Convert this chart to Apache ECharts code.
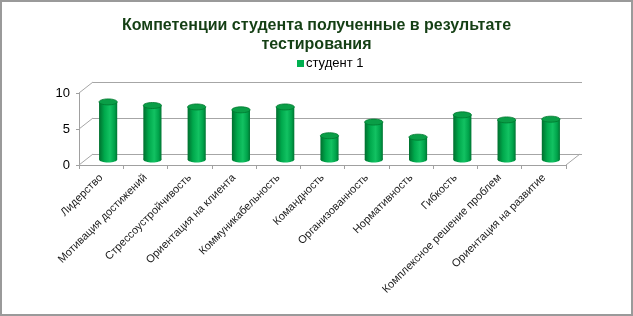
<!DOCTYPE html>
<html>
<head>
<meta charset="utf-8">
<script src="https://cdn.jsdelivr.net/npm/echarts@6/dist/echarts.min.js"></script>
<style>
  body { margin: 0; background: #fff; }
  #main { width: 633px; height: 316px; }
  #frame { position: absolute; left: 0; top: 0; width: 633px; height: 316px; box-sizing: border-box; border: 2px solid #9a9a9a; pointer-events: none; }
</style>
</head>
<body>
<div id="main"></div>
<div id="frame"></div>
<script>
var categories = [
  'Лидерство',
  'Мотивация достижений',
  'Стрессоустройчивость',
  'Ориентация на клиента',
  'Коммуникабельность',
  'Командность',
  'Организованность',
  'Нормативность',
  'Гибкость',
  'Комплексное решение проблем',
  'Ориентация на развитие'
];
var student1 = [8.0, 7.5, 7.3, 6.9, 7.3, 3.3, 5.2, 3.1, 6.2, 5.5, 5.6];
var yTicks = [0, 5, 10];

var chartDom = document.getElementById('main');
var myChart = echarts.init(chartDom);
var option;

// depth offset of the 3d back wall and of the bars
var DX = 14, DY = -11;
var BX = 7, BY = -5.5;

var bodyGrad = new echarts.graphic.LinearGradient(0, 0, 1, 0, [
  { offset: 0, color: '#006f2e' },
  { offset: 0.3, color: '#00a94c' },
  { offset: 0.6, color: '#12c262' },
  { offset: 0.85, color: '#00a24a' },
  { offset: 1, color: '#007532' }
]);

option = {
  animation: false,
  textStyle: { fontFamily: 'Liberation Sans, Arial, sans-serif' },
  title: {
    text: 'Компетенции студента полученные в результате\nтестирования',
    left: 'center',
    top: 11,
    textStyle: {
      fontSize: 16,
      fontWeight: 'bold',
      color: '#143f14',
      lineHeight: 19,
      align: 'center'
    }
  },
  legend: {
    data: ['студент 1'],
    left: 292,
    top: 52,
    icon: 'rect',
    itemWidth: 7,
    itemHeight: 7,
    itemGap: 4,
    textStyle: { fontSize: 13, color: '#000', padding: [0, 0, 0, -3] }
  },
  grid: [
    { left: 79, right: 67, top: 93, bottom: 151 },
    { left: 93, right: 51, top: 82, bottom: 162 }
  ],
  xAxis: [
    {
      type: 'category',
      gridIndex: 0,
      data: categories,
      axisLine: { show: true, lineStyle: { color: '#a0a0a0' } },
      axisTick: { show: true, length: 4, lineStyle: { color: '#a0a0a0' } },
      axisLabel: {
        interval: 0,
        rotate: 45,
        fontSize: 11,
        color: '#1a1a1a',
        margin: 11
      }
    },
    {
      type: 'category',
      gridIndex: 1,
      data: categories,
      show: false
    }
  ],
  yAxis: [
    {
      type: 'value',
      gridIndex: 0,
      min: 0,
      max: 10,
      interval: 5,
      splitLine: { show: false },
      axisLine: { show: true, lineStyle: { color: '#a0a0a0' } },
      axisTick: { show: true, length: 3, lineStyle: { color: '#a0a0a0' } },
      axisLabel: { fontSize: 13, color: '#000', margin: 9 }
    },
    {
      type: 'value',
      gridIndex: 1,
      min: 0,
      max: 10,
      interval: 5,
      axisLine: { show: false },
      axisTick: { show: false },
      axisLabel: { show: false },
      splitLine: { show: true, lineStyle: { color: '#a6a6a6', width: 1 } }
    }
  ],
  series: [
    {
      name: 'walls',
      type: 'custom',
      xAxisIndex: 0,
      yAxisIndex: 0,
      silent: true,
      z: 1,
      data: yTicks.map(function (v) { return [0, v]; }),
      renderItem: function (params, api) {
        var cs = params.coordSys;
        var y = api.coord([0, api.value(1)])[1];
        var children = [{
          type: 'line',
          shape: { x1: cs.x, y1: y, x2: cs.x + DX, y2: y + DY },
          style: { stroke: '#a6a6a6', lineWidth: 1 }
        }];
        if (api.value(1) === 0) {
          children.push({
            type: 'line',
            shape: { x1: cs.x + cs.width, y1: y, x2: cs.x + cs.width + DX, y2: y + DY },
            style: { stroke: '#a6a6a6', lineWidth: 1 }
          });
        }
        return { type: 'group', children: children };
      }
    },
    {
      name: 'студент 1',
      type: 'custom',
      xAxisIndex: 0,
      yAxisIndex: 0,
      z: 3,
      itemStyle: { color: '#00b050' },
      encode: { x: 0, y: 1 },
      data: student1.map(function (v, i) { return [i, v]; }),
      renderItem: function (params, api) {
        var top = api.coord([api.value(0), api.value(1)]);
        var base = api.coord([api.value(0), 0]);
        var w = api.size([1, 0])[0] * 0.41;
        var rx = w / 2, ry = 3;
        var cx = top[0] + BX;
        var ty = top[1] + BY;
        var by = base[1] + BY;
        return {
          type: 'group',
          children: [
            { type: 'ellipse', shape: { cx: cx, cy: by, rx: rx, ry: ry }, style: { fill: bodyGrad } },
            { type: 'rect', shape: { x: cx - rx, y: ty, width: w, height: by - ty }, style: { fill: bodyGrad } },
            { type: 'ellipse', shape: { cx: cx, cy: ty, rx: rx, ry: ry }, style: { fill: '#0a9e47', stroke: '#00772f', lineWidth: 0.8 } }
          ]
        };
      }
    }
  ]
};

option && myChart.setOption(option);
</script>
</body>
</html>
